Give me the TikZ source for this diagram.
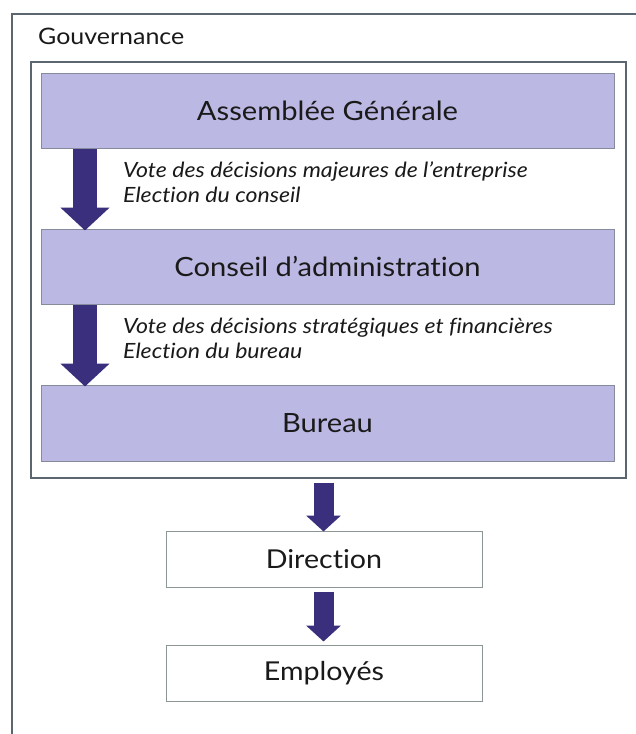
\documentclass[tikz,border=0pt]{standalone}
\usepackage{fontspec}
\setmainfont{Lato}[FakeStretch=1.1, Ligatures=NoCommon]
\usetikzlibrary{arrows.meta}
\definecolor{framec}{HTML}{5B6770}
\definecolor{boxline}{HTML}{868B9C}
\definecolor{lav}{HTML}{BBB9E3}
\definecolor{arrowc}{HTML}{3A2F7D}
\definecolor{plainline}{HTML}{8C9696}
\definecolor{txt}{HTML}{1A1A1A}
\tikzset{
  purplebox/.style={draw=boxline, line width=1pt, fill=lav, minimum width=573pt, inner sep=0pt, text=txt, font=\fontsize{26.5}{30}\selectfont},
  plainbox/.style={draw=plainline, line width=1pt, fill=white, minimum width=316pt, minimum height=56pt, inner sep=0pt, text=txt, font=\fontsize{26}{30}\selectfont},
  bigarrow/.style={draw=arrowc, line width=24pt, -{Triangle[width=48pt,length=23pt]}},
  smallarrow/.style={draw=arrowc, line width=20pt, -{Triangle[width=34pt,length=16pt]}},
  note/.style={anchor=base west, align=left, inner sep=0pt, text=txt, font=\fontsize{21}{24.5}\selectfont\itshape}
}
\begin{document}
\begin{tikzpicture}[x=1pt,y=-1pt]
\useasboundingbox (0,0) rectangle (636,734);
\fill[white] (0,0) rectangle (636,734);
% outer frame
\draw[framec, line width=1.5pt] (12,734) -- (12,14) -- (636,14);
\node[anchor=west, inner sep=0pt, text=txt, font=\fontsize{22.7}{26}\selectfont] (gouv) at (38,36) {Gouvernance};
% inner box
\node[draw=framec, line width=1.2pt, minimum width=595pt, minimum height=416pt, inner sep=0pt] (gov) at (328.5,270) {};
% boxes
\node[purplebox, minimum height=75pt] (ag) at (327.5,110.5) {Assemblée Générale};
\node[purplebox, minimum height=75pt] (ca) at (327.5,266.5) {Conseil d’administration};
\node[purplebox, minimum height=76pt] (bu) at (327.5,423) {Bureau};
\node[plainbox] (dir) at (324,559) {Direction};
\node[plainbox] (emp) at (324,673) {Employés};
% notes
\node[note] (n1) at (123,202) {Vote des décisions majeures de l’entreprise\\Election du conseil};
\node[note] (n2) at (123,358) {Vote des décisions stratégiques et financières\\Election du bureau};
% arrows
\coordinate (xa) at (85,0);
\coordinate (xb) at (323.5,0);
\draw[bigarrow] (ag.south -| xa) -- ([yshift=-2pt]ca.north -| xa);
\draw[bigarrow] (ca.south -| xa) -- ([yshift=-2pt]bu.north -| xa);
\draw[smallarrow] ([yshift=-4pt]gov.south -| xb) -- ([yshift=-1pt]dir.north -| xb);
\draw[smallarrow] ([yshift=-4pt]dir.south -| xb) -- ([yshift=3pt]emp.north -| xb);
\end{tikzpicture}
\end{document}
